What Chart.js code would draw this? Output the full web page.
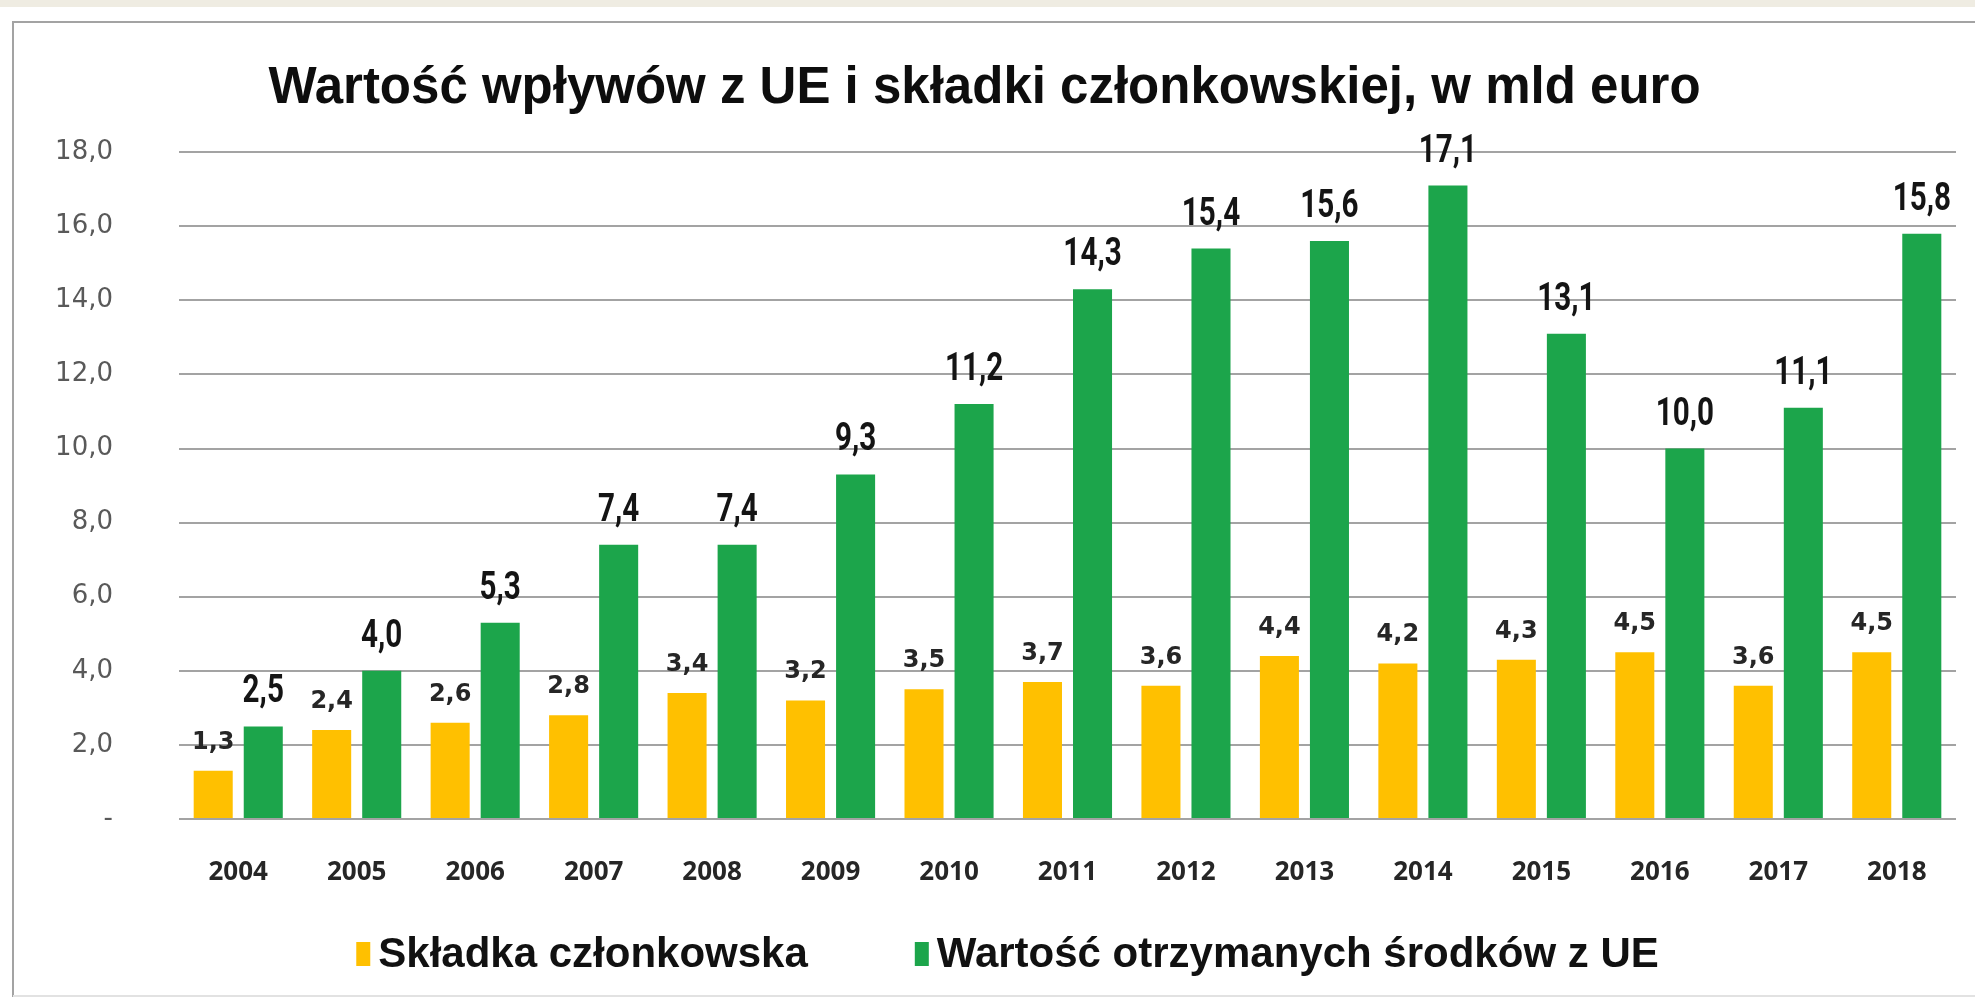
<!DOCTYPE html>
<html>
<head>
<meta charset="utf-8">
<script src="https://cdn.jsdelivr.net/npm/chart.js@4.4.1/dist/chart.umd.min.js"></script>
<style>
  html, body { margin: 0; padding: 0; background: #ffffff; }
  #wrap { position: absolute; left: 0; top: 0; width: 1975px; height: 1000px; }
</style>
</head>
<body>
<div id="wrap"><canvas id="c" width="1975" height="1000"></canvas></div>
<script>
const years = ['2004','2005','2006','2007','2008','2009','2010','2011','2012','2013','2014','2015','2016','2017','2018'];
const skladka = [1.3, 2.4, 2.6, 2.8, 3.4, 3.2, 3.5, 3.7, 3.6, 4.4, 4.2, 4.3, 4.5, 3.6, 4.5];
const srodki = [2.5, 4.0, 5.3, 7.4, 7.4, 9.3, 11.2, 14.3, 15.4, 15.6, 17.1, 13.1, 10.0, 11.1, 15.8];
const seriesNames = ['Składka członkowska', 'Wartość otrzymanych środków z UE'];
const titleText = 'Wartość wpływów z UE i składki członkowskiej, w mld euro';
const yTicks = [0, 2, 4, 6, 8, 10, 12, 14, 16, 18];

const fmt = v => v.toFixed(1).replace('.', ',');

const framePlugin = {
  id: 'frame',
  beforeDraw(chart) {
    const ctx = chart.ctx;
    ctx.save();
    ctx.fillStyle = '#ffffff';
    ctx.fillRect(0, 0, chart.width, chart.height);
    ctx.fillStyle = '#efece2';
    ctx.fillRect(0, 0, chart.width, 7);
    ctx.strokeStyle = '#a3a3a3';
    ctx.lineWidth = 2;
    ctx.beginPath();
    ctx.moveTo(13, 997);
    ctx.lineTo(13, 22);
    ctx.lineTo(chart.width, 22);
    ctx.stroke();
    ctx.strokeStyle = '#e2e2e2';
    ctx.beginPath();
    ctx.moveTo(13, 996);
    ctx.lineTo(chart.width, 996);
    ctx.stroke();
    ctx.restore();
  }
};

const labelPlugin = {
  id: 'barLabels',
  afterDatasetsDraw(chart) {
    const ctx = chart.ctx;
    chart.data.datasets.forEach((ds, di) => {
      const meta = chart.getDatasetMeta(di);
      meta.data.forEach((bar, i) => {
        ctx.save();
        ctx.textAlign = 'center';
        ctx.textBaseline = 'alphabetic';
        if (di === 0) {
          ctx.font = 'bold 24px "DejaVu Sans"';
          ctx.fillStyle = '#262626';
          ctx.fillText(fmt(ds.data[i]), bar.x, bar.y - 22);
        } else {
          ctx.font = 'bold 39px Roboto';
          ctx.fillStyle = '#141414';
          ctx.translate(bar.x, bar.y - 24);
          ctx.scale(0.76, 1);
          ctx.fillText(fmt(ds.data[i]), 0, 0);
        }
        ctx.restore();
      });
    });
  }
};

const legendPlugin = {
  id: 'customLegend',
  afterDraw(chart) {
    const ctx = chart.ctx;
    ctx.save();
    ctx.font = 'bold 42px "Liberation Sans"';
    ctx.textBaseline = 'middle';
    ctx.textAlign = 'left';
    const boxW = 14, boxH = 24, gap = 8, itemGap = 107;
    const widths = chart.data.datasets.map(ds => ctx.measureText(ds.label).width);
    const total = widths.reduce((a, w) => a + boxW + gap + w, 0) + itemGap * (widths.length - 1);
    let x = chart.width / 2 + 20 - total / 2;
    const y = 954;
    chart.data.datasets.forEach((ds, i) => {
      ctx.fillStyle = ds.backgroundColor;
      ctx.fillRect(x, y - boxH / 2, boxW, boxH);
      ctx.fillStyle = '#111111';
      ctx.fillText(ds.label, x + boxW + gap, y + 1);
      x += boxW + gap + widths[i] + itemGap;
    });
    ctx.restore();
  }
};

new Chart(document.getElementById('c'), {
  type: 'bar',
  data: {
    labels: years,
    datasets: [
      { label: seriesNames[0], data: skladka, backgroundColor: '#ffc000' },
      { label: seriesNames[1], data: srodki, backgroundColor: '#1ca54b' }
    ]
  },
  options: {
    responsive: false,
    animation: false,
    devicePixelRatio: 1,
    categoryPercentage: 0.845,
    barPercentage: 0.78,
    layout: { padding: { left: 13, right: 19, top: 0, bottom: 0 } },
    plugins: {
      legend: { display: false },
      tooltip: { enabled: false },
      title: {
        display: true,
        text: titleText,
        color: '#0d0d0d',
        font: { family: '"Liberation Sans"', weight: 'bold', size: 51 },
        padding: { top: 58, bottom: 33 }
      }
    },
    scales: {
      x: {
        grid: { display: false },
        border: { display: false },
        ticks: {
          color: '#262626',
          font: { family: '"Open Sans"', weight: 'bold', size: 26 },
          padding: 30,
          maxRotation: 0
        },
        afterFit(scale) { scale.height = 181; }
      },
      y: {
        min: 0,
        max: 18,
        afterBuildTicks(scale) { scale.ticks = yTicks.map(v => ({ value: v })); },
        grid: { color: '#a3a3a3', lineWidth: 2, drawTicks: false },
        border: { display: false },
        ticks: {
          color: '#595959',
          font: { family: '"DejaVu Sans"', size: 26 },
          padding: 66,
          callback: v => (v === 0 ? '-' : fmt(v))
        },
        afterFit(scale) { scale.width = 166; }
      }
    }
  },
  plugins: [framePlugin, labelPlugin, legendPlugin]
});
</script>
</body>
</html>
